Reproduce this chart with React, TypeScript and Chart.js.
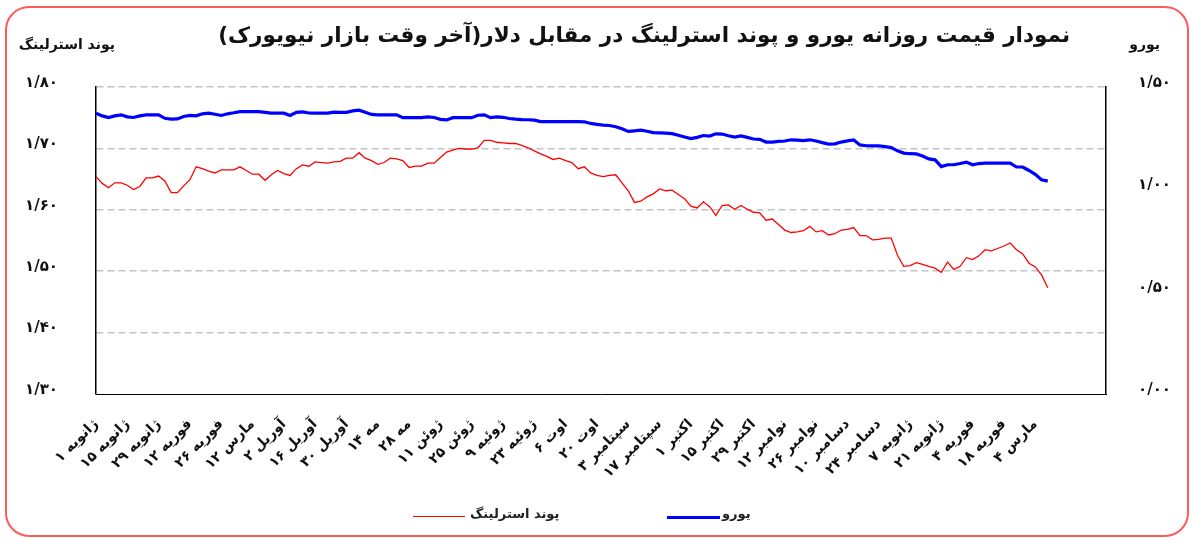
import React, { useEffect, useRef } from 'react';
import { Chart, registerables } from 'chart.js';

Chart.register(...registerables);

// Tick labels on the date axis (one every 10 business days)
const xLabels: string[] = [
  'ژانویه ۱', 'ژانویه ۱۵', 'ژانویه ۲۹', 'فوریه ۱۲', 'فوریه ۲۶', 'مارس ۱۲', 'آوریل ۲',
  'آوریل ۱۶', 'آوریل ۳۰', 'مه ۱۴', 'مه ۲۸', 'ژوئن ۱۱', 'ژوئن ۲۵', 'ژوئیه ۹', 'ژوئیه ۲۳',
  'اوت ۶', 'اوت ۲۰', 'سپتامبر ۳', 'سپتامبر ۱۷', 'اکتبر ۱', 'اکتبر ۱۵', 'اکتبر ۲۹',
  'نوامبر ۱۲', 'نوامبر ۲۶', 'دسامبر ۱۰', 'دسامبر ۲۴', 'ژانویه ۷', 'ژانویه ۲۱',
  'فوریه ۴', 'فوریه ۱۸', 'مارس ۴',
];
const POINTS_PER_LABEL = 5; // each data point = 2 business days
const AXIS_END = 161.3;     // empty room after last data point

const poundTickLabels = ['۱/۳۰', '۱/۴۰', '۱/۵۰', '۱/۶۰', '۱/۷۰', '۱/۸۰'];
const euroTickLabels = ['۰/۰۰', '۰/۵۰', '۱/۰۰', '۱/۵۰'];

// Pound sterling (left axis)
const pound: number[] = [
  1.654, 1.643, 1.636, 1.644, 1.644, 1.640, 1.633, 1.638, 1.652, 1.652,
  1.655, 1.647, 1.628, 1.628, 1.639, 1.649, 1.670, 1.667, 1.663, 1.660,
  1.665, 1.665, 1.665, 1.670, 1.664, 1.658, 1.658, 1.648, 1.657, 1.664,
  1.659, 1.656, 1.667, 1.673, 1.671, 1.678, 1.677, 1.676, 1.678, 1.679,
  1.684, 1.684, 1.693, 1.684, 1.680, 1.674, 1.677, 1.684, 1.683, 1.680,
  1.669, 1.671, 1.671, 1.676, 1.676, 1.685, 1.694, 1.697, 1.700, 1.699,
  1.699, 1.701, 1.713, 1.713, 1.710, 1.709, 1.708, 1.708, 1.705, 1.701,
  1.696, 1.691, 1.687, 1.682, 1.684, 1.680, 1.677, 1.667, 1.670, 1.660,
  1.656, 1.654, 1.656, 1.657, 1.644, 1.631, 1.612, 1.614, 1.621, 1.626,
  1.634, 1.631, 1.632, 1.625, 1.618, 1.606, 1.603, 1.613, 1.605, 1.591,
  1.607, 1.608, 1.601, 1.607, 1.601, 1.596, 1.595, 1.583, 1.585, 1.576,
  1.567, 1.563, 1.564, 1.566, 1.573, 1.564, 1.566, 1.559, 1.561, 1.567,
  1.568, 1.571, 1.558, 1.558, 1.551, 1.552, 1.554, 1.554, 1.526, 1.508,
  1.509, 1.514, 1.511, 1.508, 1.505, 1.498, 1.515, 1.503, 1.508, 1.522,
  1.519, 1.525, 1.535, 1.533, 1.537, 1.541, 1.546, 1.535, 1.528, 1.513,
  1.507, 1.494, 1.473,
];

// Euro (right axis)
const euro: number[] = [
  1.372, 1.359, 1.351, 1.359, 1.364, 1.354, 1.351, 1.359, 1.364, 1.364,
  1.364, 1.347, 1.343, 1.344, 1.356, 1.361, 1.359, 1.369, 1.372, 1.367,
  1.361, 1.369, 1.374, 1.380, 1.380, 1.380, 1.380, 1.376, 1.372, 1.372,
  1.372, 1.361, 1.376, 1.378, 1.373, 1.372, 1.372, 1.372, 1.377, 1.376,
  1.376, 1.383, 1.387, 1.377, 1.366, 1.364, 1.364, 1.364, 1.364, 1.350,
  1.350, 1.350, 1.350, 1.354, 1.351, 1.342, 1.339, 1.350, 1.350, 1.350,
  1.350, 1.362, 1.364, 1.350, 1.354, 1.352, 1.346, 1.343, 1.341, 1.340,
  1.338, 1.331, 1.331, 1.331, 1.331, 1.331, 1.331, 1.331, 1.330, 1.322,
  1.317, 1.314, 1.312, 1.306, 1.296, 1.283, 1.286, 1.289, 1.284, 1.277,
  1.276, 1.275, 1.272, 1.264, 1.256, 1.248, 1.254, 1.263, 1.260, 1.271,
  1.270, 1.262, 1.255, 1.261, 1.254, 1.246, 1.244, 1.231, 1.231, 1.234,
  1.236, 1.242, 1.240, 1.238, 1.242, 1.236, 1.228, 1.221, 1.222, 1.231,
  1.237, 1.241, 1.217, 1.213, 1.212, 1.213, 1.209, 1.204, 1.188, 1.177,
  1.174, 1.173, 1.163, 1.149, 1.144, 1.111, 1.120, 1.120, 1.126, 1.133,
  1.120, 1.126, 1.128, 1.128, 1.128, 1.128, 1.128, 1.109, 1.109, 1.092,
  1.073, 1.047, 1.040,
];

const titleText = 'نمودار قیمت روزانه  یورو و پوند استرلینگ در مقابل دلار(آخر وقت بازار نیویورک)';
const poundName = 'پوند استرلینگ';
const euroName = 'یورو';

const FONT = '"DejaVu Sans", sans-serif';

export default function App() {
  const canvasRef = useRef<HTMLCanvasElement | null>(null);

  useEffect(() => {
    if (!canvasRef.current) return;
    const chart = new Chart(canvasRef.current, {
      type: 'line',
      data: {
        datasets: [
          {
            label: poundName,
            data: pound.map((v, i) => ({ x: i, y: v })),
            borderColor: '#ff0000',
            backgroundColor: '#ff0000',
            borderWidth: 1.3,
            pointRadius: 0,
            tension: 0,
            yAxisID: 'y',
          },
          {
            label: euroName,
            data: euro.map((v, i) => ({ x: i, y: v })),
            borderColor: '#0000ff',
            backgroundColor: '#0000ff',
            borderWidth: 3.2,
            pointRadius: 0,
            tension: 0,
            yAxisID: 'y1',
          },
        ],
      },
      options: {
        responsive: false,
        animation: false,
        devicePixelRatio: 1,
        layout: { padding: { top: 87, left: 0, right: 0, bottom: 0 } },
        plugins: {
          legend: { display: false },
          title: { display: false },
          tooltip: { enabled: false },
        },
        scales: {
          x: {
            type: 'linear',
            min: 0,
            max: AXIS_END,
            grid: { display: false, drawTicks: false },
            border: { display: true, color: '#000', width: 1 },
            ticks: {
              stepSize: POINTS_PER_LABEL,
              autoSkip: false,
              maxRotation: 45,
              minRotation: 45,
              padding: 22,
              color: '#111',
              font: { family: FONT, size: 14, weight: 'bold' },
              callback: (v: any) => {
                const n = Number(v);
                if (Math.abs(n / POINTS_PER_LABEL - Math.round(n / POINTS_PER_LABEL)) > 1e-6) return '';
                return xLabels[Math.round(n / POINTS_PER_LABEL)] ?? '';
              },
            },
            afterFit: (s: any) => { s.height = 148; },
          },
          y: {
            position: 'left',
            min: 1.3,
            max: 1.8,
            grid: {
              drawTicks: false,
              lineWidth: 1.5,
              color: (c: any) => (c.tick && Math.abs(c.tick.value - 1.3) < 1e-6 ? 'rgba(0,0,0,0)' : '#c4c4c4'),
            },
            border: { display: true, color: '#000', width: 1.5, dash: [7, 4] },
            ticks: {
              stepSize: 0.1,
              padding: 38,
              labelOffset: -4,
              color: '#111',
              font: { family: FONT, size: 15, weight: 'bold' },
              callback: (v: any) => poundTickLabels[Math.round((Number(v) - 1.3) / 0.1)] ?? '',
            },
            afterFit: (s: any) => { s.width = 96; },
          },
          y1: {
            position: 'right',
            min: 0,
            max: 1.5,
            grid: { display: false, drawTicks: false },
            border: { display: true, color: '#000', width: 1.5 },
            ticks: {
              stepSize: 0.5,
              padding: 32,
              labelOffset: -4,
              color: '#111',
              font: { family: FONT, size: 15, weight: 'bold' },
              callback: (v: any) => euroTickLabels[Math.round(Number(v) / 0.5)] ?? '',
            },
            afterFit: (s: any) => { s.width = 88; },
          },
        },
      } as any,
    });
    return () => chart.destroy();
  }, []);

  const abs = (o: React.CSSProperties): React.CSSProperties => ({ position: 'absolute', whiteSpace: 'nowrap', fontFamily: FONT, ...o });

  return (
    <div style={{ position: 'absolute', left: 0, top: 0, width: 1194, height: 542, background: '#fff' }}>
      <div style={{ position: 'absolute', left: 5, top: 6, width: 1184, height: 531, boxSizing: 'border-box', border: '2px solid #ff5a5a', borderRadius: 24 }} />
      <canvas ref={canvasRef} width={1194} height={542} style={{ position: 'absolute', left: 0, top: 0, width: 1194, height: 542 }} />
      <div dir="rtl" style={abs({ right: 124, top: 22, fontSize: 21.5, fontWeight: 'bold', color: '#111' })}>{titleText}</div>
      <div dir="rtl" style={abs({ right: 1079, top: 36, fontSize: 14, fontWeight: 'bold', color: '#111' })}>{poundName}</div>
      <div dir="rtl" style={abs({ right: 34, top: 36, fontSize: 14, fontWeight: 'bold', color: '#111' })}>{euroName}</div>
      <div style={abs({ left: 413, top: 516, width: 52, height: 1.3, background: '#ff0000' })} />
      <div dir="rtl" style={abs({ left: 470, top: 506, fontSize: 13, fontWeight: 'bold', color: '#222' })}>{poundName}</div>
      <div style={abs({ left: 667, top: 516, width: 53, height: 3, background: '#0000ff' })} />
      <div dir="rtl" style={abs({ left: 722, top: 506, fontSize: 13, fontWeight: 'bold', color: '#222' })}>{euroName}</div>
    </div>
  );
}
